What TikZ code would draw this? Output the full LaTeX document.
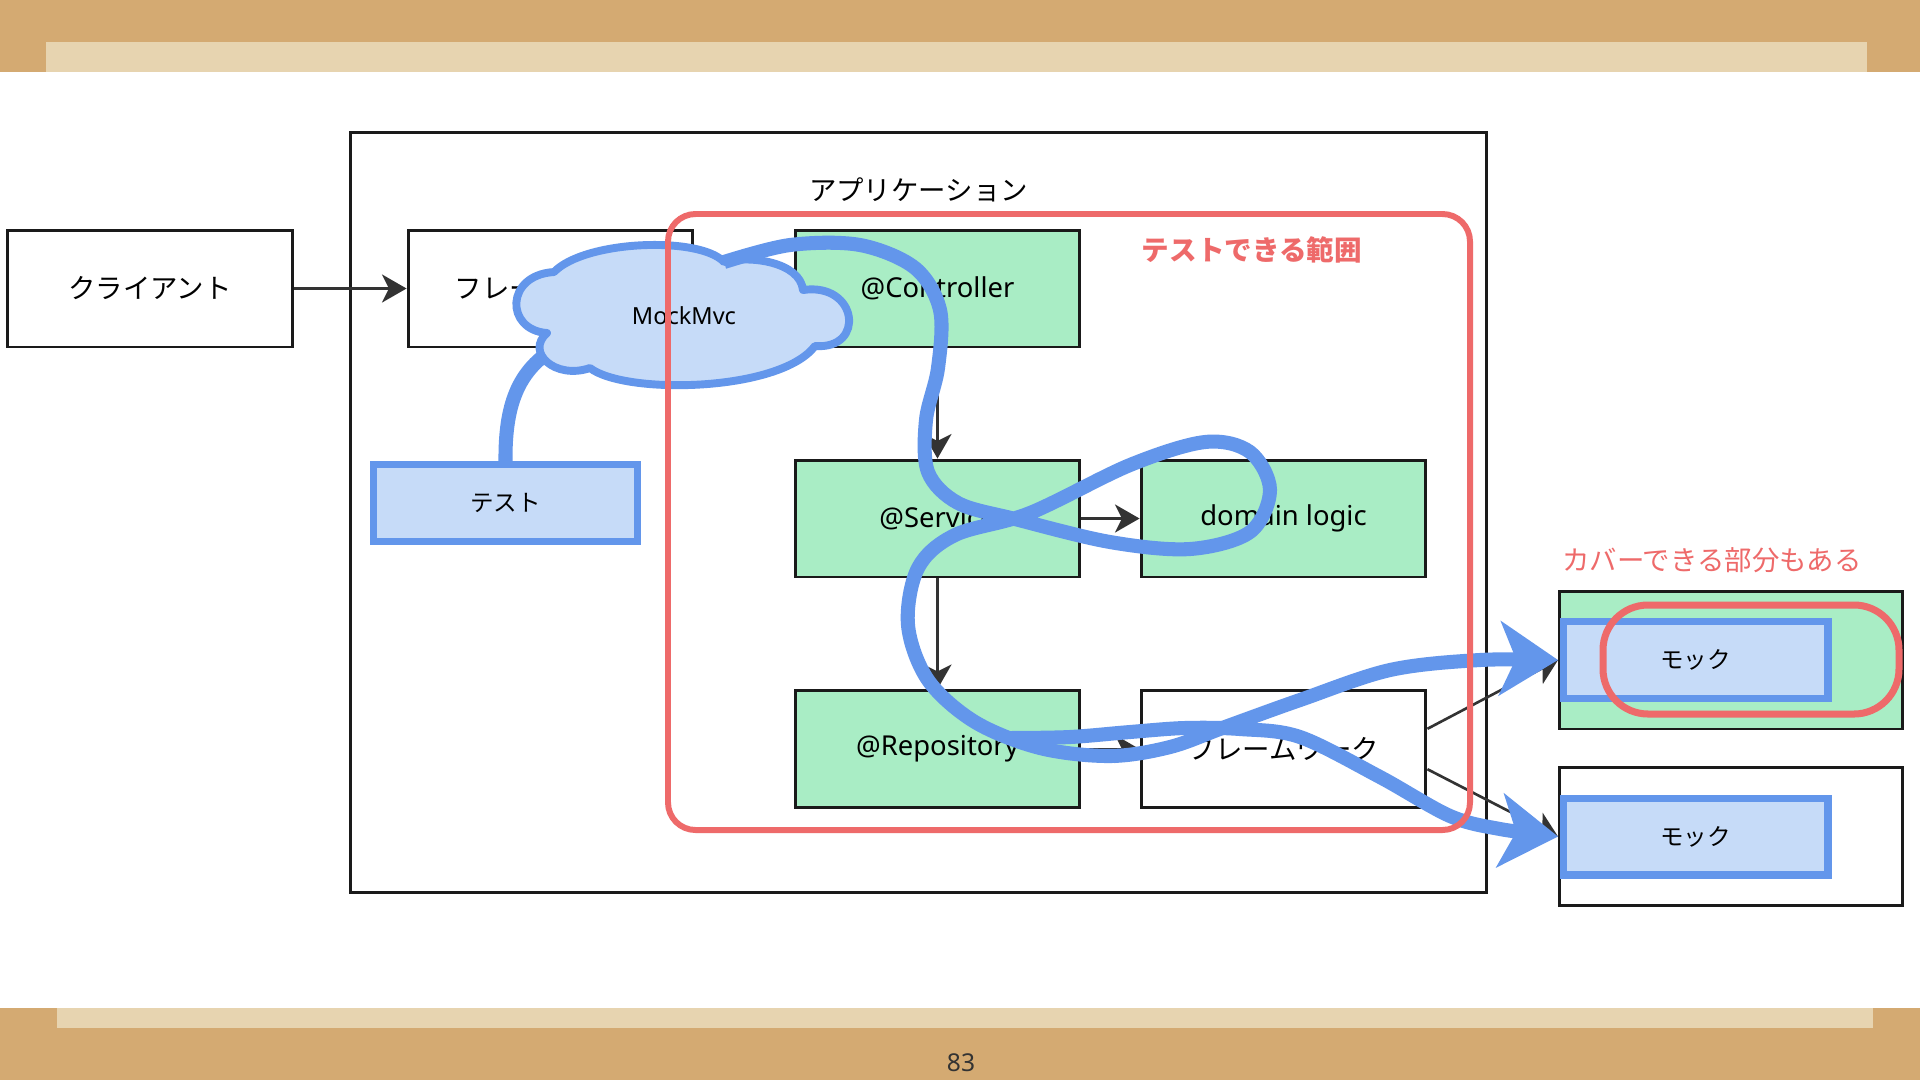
\documentclass[tikz,border=0pt]{standalone}
\usepackage{fontspec}
\setmainfont{Noto Sans}
\newfontfamily\jp{Noto Sans CJK JP}
\usetikzlibrary{arrows.meta}
\definecolor{cork}{HTML}{D4AA72}
\definecolor{tape}{HTML}{E7D4B0}
\definecolor{boxgreen}{HTML}{A9EDC5}
\definecolor{mockfill}{HTML}{C6DBF8}
\definecolor{flowblue}{HTML}{6396EB}
\definecolor{rangered}{HTML}{EE6A6A}
\definecolor{inkdark}{HTML}{1A1A1A}
\definecolor{tipgray}{HTML}{333333}

\begin{document}
\begin{tikzpicture}[x=0.02cm, y=-0.02cm,
  bigfont/.style={font=\fontsize{15.6pt}{18pt}\selectfont},
  smallfont/.style={font=\fontsize{13.4pt}{16pt}\selectfont},
  block/.style={draw=inkdark, line width=1.7pt, minimum width=5.7cm, minimum height=2.34cm,
                inner sep=0, bigfont},
  layer/.style={block, fill=boxgreen},
  mockbox/.style={draw=flowblue, fill=mockfill, line width=4pt, minimum width=5.3cm,
                  minimum height=1.54cm, inner sep=0, smallfont},
  holder/.style={draw=inkdark, line width=1.7pt, minimum width=6.86cm, minimum height=2.76cm, inner sep=0},
  call/.style={-{Stealth[length=14pt, width=16pt, inset=4pt]}, tipgray, line width=1.5pt},
  flow/.style={flowblue, line width=8pt},
  flowarrow/.style={flow, -{Stealth[length=33pt, width=42pt, inset=9pt]}},
  rangebox/.style={rangered, line width=3.4pt},
  rlbl/.style={text=rangered, bigfont},
]
\useasboundingbox (0,0) rectangle (1920,1080);

% =========================== slide background ===========================
\fill[cork] (0,0) rectangle (1920,1080);
\fill[white] (0,72) rectangle (1920,1008);
\fill[tape] (46,42) rectangle (1867,72);
\fill[tape] (57,1008) rectangle (1873,1028);
\node[font=\fontsize{14pt}{16pt}\selectfont, text=tipgray] (pageno) at (961,1063) {83};

% =========================== application ===========================
\node[draw=inkdark, line width=1.7pt, minimum width=22.74cm, minimum height=15.22cm, inner sep=0]
  (app) at (918.5,512.5) {};
\node[bigfont] (applbl) at (918.5,190) {\jp アプリケーション};

\node[block] (client) at (150,288.5) {\jp クライアント};
\node[block] (fw1) at (550.5,288.5) {\jp フレームワーク};
\node[mockbox] (testbox) at (505.5,503) {\jp テスト};

\node[layer] (ctrl) at (937.5,288.5) {@Controller};
\node[layer] (svc) at (937.5,518.5) {@Service};
\node[layer] (dom) at (1283.5,518.5) {domain logic};
\node[layer] (repo) at (937.5,749) {@Repository};
\node[block] (fw2) at (1283.5,749) {\jp フレームワーク};

% mocks outside
\node[holder, fill=boxgreen] (m1out) at (1731,660) {};
\node[holder] (m2out) at (1731,836.5) {};
\node[mockbox] (m1in) at (1695.5,660) {\jp モック};
\node[mockbox] (m2in) at (1695.5,836.5) {\jp モック};

% calls
\draw[call] (client) -- (fw1);
\draw[call] (ctrl) -- (svc);
\draw[call] (svc) -- (dom);
\draw[call] (svc) -- (repo);
\draw[call] (repo) -- (fw2);
\draw[call] (fw2.8) -- (m1out.west);
\draw[call] (fw2.-8) -- (m2out.west);

% =========================== MockMvc test path ===========================
\coordinate (cloudsw) at (552,350);
\draw[flow] (testbox.north) .. controls (505,405) and (518,372) .. (cloudsw);

% cloud outline, puff by puff
\filldraw[draw=flowblue, fill=mockfill, line width=4.5pt, line join=round]
  (554,272) .. controls (585,240) and (700,236) .. (724,262)
  .. controls (750,255) and (800,262) .. (803,290)
  .. controls (858,282) and (866,350) .. (815,346)
  .. controls (780,392) and (625,395) .. (590,368)
  .. controls (555,380) and (525,352) .. (547,333)
  .. controls (505,330) and (505,275) .. cycle;
\node[smallfont] (mvc) at (684,316) {MockMvc};

\coordinate (mvcout) at (724,262);
\draw[flowarrow] plot[smooth, tension=0.55] coordinates {
  (mvcout) (790,245) (860,245) (915,268) (940,310) (938,368) (926,420) (928,472)
  (958,503) (1015,519) (1110,542) (1190,549) (1250,532) (1270,490) (1250,452)
  (1205,442) (1130,465) (1030,513) (955,535) (918,568) (908,625) (928,680)
  (975,722) (1040,748) (1110,756) (1170,747) (1225,727) (1300,700) (1390,670)
  (1480,660) (m1out.west)};

\coordinate (repoout) at (1012,738);
\draw[flowarrow, line cap=round] plot[smooth, tension=0.55] coordinates {
  (repoout) (1070,737) (1130,732) (1185,728) (1240,729) (1300,737) (1380,777) (1450,816)
  (1500,829) (m2out.west)};

% =========================== ranges ===========================
\draw[rangebox, rounded corners=0.55cm] (668,214) rectangle (1470,830);
\node[rlbl, font=\fontsize{15.7pt}{18pt}\selectfont\bfseries] (rangelbl) at (1252,250) {\jp テストできる範囲};
\draw[rangebox, line width=4pt, rounded corners=0.9cm] (1603,605) rectangle (1899,714);
\node[rlbl] (coverlbl) at (1712,560) {\jp カバーできる部分もある};

\end{tikzpicture}
\end{document}
